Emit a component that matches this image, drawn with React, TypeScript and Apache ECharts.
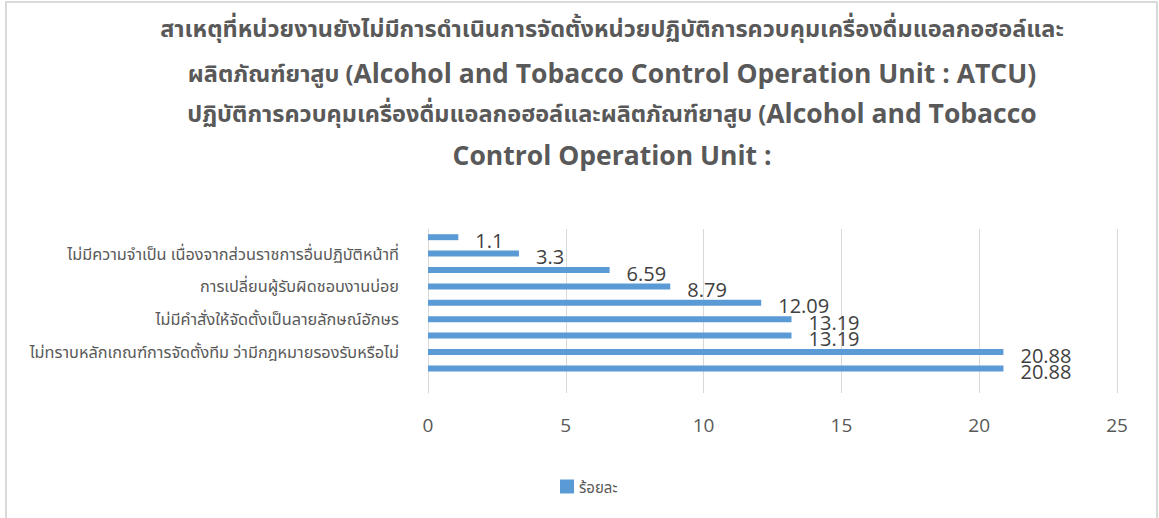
import React, { useEffect, useRef } from "react";
import * as echarts from "echarts";

// Categories listed bottom-to-top (ECharts category y-axis grows upward)
const categories: string[] = [
  "",
  " ",
  "ไม่ทราบหลักเกณฑ์การจัดตั้งทีม ว่ามีกฎหมายรองรับหรือไม่",
  "  ",
  "ไม่มีคำสั่งให้จัดตั้งเป็นลายลักษณ์อักษร",
  "   ",
  "การเปลี่ยนผู้รับผิดชอบงานบ่อย",
  "    ",
  "ไม่มีความจำเป็น เนื่องจากส่วนราชการอื่นปฏิบัติหน้าที่",
  "     ",
];
const values: (number | string)[] = ["-", 20.88, 20.88, 13.19, 13.19, 12.09, 8.79, 6.59, 3.3, 1.1];
const seriesName = "ร้อยละ";
const xTicks = { min: 0, max: 25, interval: 5 };

const titleLines: { th: string; en: string }[] = [
  { th: "สาเหตุที่หน่วยงานยังไม่มีการดำเนินการจัดตั้งหน่วยปฏิบัติการควบคุมเครื่องดื่มแอลกอฮอล์และ", en: "" },
  { th: "ผลิตภัณฑ์ยาสูบ (", en: "Alcohol and Tobacco Control Operation Unit : ATCU)" },
  { th: "ปฏิบัติการควบคุมเครื่องดื่มแอลกอฮอล์และผลิตภัณฑ์ยาสูบ (", en: "Alcohol and Tobacco" },
  { th: "", en: "Control Operation Unit :" },
];

const THAI_FONT = "'Noto Sans', 'Noto Sans Thai', 'DejaVu Sans', sans-serif";
const EN_FONT = "'Open Sans', 'Noto Sans', sans-serif";
const GRAY = "#595959";

export default function App() {
  const ref = useRef<HTMLDivElement>(null);
  useEffect(() => {
    if (!ref.current) return;
    const chart = echarts.init(ref.current, null, { renderer: "svg" });
    const lineY = [28, 73, 113, 155];
    const titleGraphics = titleLines.map((l, i) => {
      const parts: string[] = [];
      if (l.th) parts.push(`{th|${l.th}}`);
      if (l.en) parts.push(`{en|${l.en}}`);
      return {
        type: "text",
        x: 612,
        y: lineY[i],
        style: {
          text: parts.join(""),
          align: "center",
          verticalAlign: "middle",
          rich: {
            th: { fontFamily: THAI_FONT, fontSize: 23.5, fontWeight: "bold", fill: GRAY },
            en: { fontFamily: EN_FONT, fontSize: 26.5, fontWeight: "bold", fill: GRAY },
          },
        },
      };
    });
    chart.setOption({
      animation: false,
      backgroundColor: "#ffffff",
      graphic: [
        {
          type: "rect",
          shape: { x: 6, y: 2, width: 1151, height: 530 },
          style: { fill: "none", stroke: "#d9d9d9", lineWidth: 2 },
          silent: true,
        },
        ...titleGraphics,
      ],
      grid: { left: 428, right: 42, top: 229, height: 164, containLabel: false },
      legend: {
        left: 555,
        top: 474,
        icon: "rect",
        itemWidth: 14,
        itemHeight: 14,
        itemGap: 6,
        textStyle: { fontFamily: THAI_FONT, fontSize: 15, color: GRAY },
        data: [seriesName],
      },
      xAxis: {
        type: "value",
        min: xTicks.min,
        max: xTicks.max,
        interval: xTicks.interval,
        axisLine: { show: false },
        axisTick: { show: false },
        splitLine: { show: true, lineStyle: { color: "#d9d9d9", width: 1 } },
        axisLabel: { color: GRAY, fontSize: 19, fontFamily: EN_FONT, margin: 22 },
      },
      yAxis: {
        type: "category",
        data: categories,
        axisLine: { show: true, lineStyle: { color: "#d9d9d9", width: 1 } },
        axisTick: { show: false },
        axisLabel: {
          interval: 1,
          color: GRAY,
          fontSize: 16.3,
          fontFamily: THAI_FONT,
          margin: 29,
        },
      },
      series: [
        {
          name: seriesName,
          type: "bar",
          data: values,
          barWidth: 6,
          itemStyle: { color: "#5b9bd5" },
          label: {
            show: true,
            position: "right",
            distance: 17,
            offset: [0, 3],
            color: "#404040",
            fontSize: 20,
            fontFamily: EN_FONT,
          },
        },
      ],
    });
    return () => chart.dispose();
  }, []);
  return (
    <div
      ref={ref}
      style={{ position: "absolute", left: 0, top: 0, width: 1159, height: 518 }}
    />
  );
}
